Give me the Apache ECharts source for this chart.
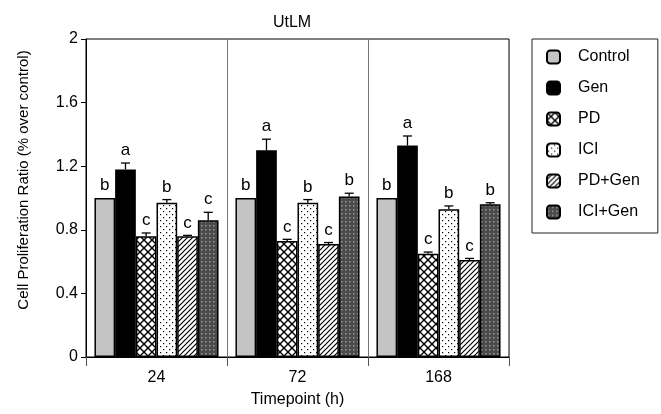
<!DOCTYPE html>
<html>
<head>
<meta charset="utf-8">
<script src="https://cdn.jsdelivr.net/npm/echarts@6/dist/echarts.min.js"></script>
<style>
  html, body { margin: 0; padding: 0; background: #fff; }
  #main { width: 661px; height: 414px; }
</style>
</head>
<body>
<div id="main"></div>
<script>
// data
var timepoints = ['24', '72', '168'];
var groups = ['Control', 'Gen', 'PD', 'ICI', 'PD+Gen', 'ICI+Gen'];

var controlVals = [1.0, 1.0, 1.0];
var genVals = [1.18, 1.30, 1.33];
var pdVals = [0.76, 0.73, 0.65];
var iciVals = [0.97, 0.97, 0.93];
var pdGenVals = [0.76, 0.71, 0.61];
var iciGenVals = [0.86, 1.01, 0.96];

var controlErr = [0, 0, 0];
var genErr = [0.04, 0.07, 0.06];
var pdErr = [0.02, 0.01, 0.01];
var iciErr = [0.02, 0.02, 0.02];
var pdGenErr = [0.005, 0.01, 0.01];
var iciGenErr = [0.05, 0.02, 0.01];

// significance letters, per group, per timepoint
var controlLetters = ['b', 'b', 'b'];
var genLetters = ['a', 'a', 'a'];
var pdLetters = ['c', 'c', 'c'];
var iciLetters = ['b', 'b', 'b'];
var pdGenLetters = ['c', 'c', 'c'];
var iciGenLetters = ['c', 'b', 'b'];

var yTicks = [0, 0.4, 0.8, 1.2, 1.6, 2];

var allVals = [controlVals, genVals, pdVals, iciVals, pdGenVals, iciGenVals];
var allErr = [controlErr, genErr, pdErr, iciErr, pdGenErr, iciGenErr];
var allLetters = [controlLetters, genLetters, pdLetters, iciLetters, pdGenLetters, iciGenLetters];

var CAT_GAP = 0.12;
var FONT = '"Liberation Sans", Arial, Helvetica, sans-serif';

// fill patterns
function makePattern(w, h, draw) {
  var c = document.createElement('canvas');
  c.width = w; c.height = h;
  var ctx = c.getContext('2d');
  draw(ctx, w, h);
  return { image: c, repeat: 'repeat' };
}

var crossHatch = makePattern(8, 8, function (ctx, w, h) {
  ctx.fillStyle = '#fff'; ctx.fillRect(0, 0, w, h);
  ctx.strokeStyle = '#000'; ctx.lineWidth = 1.4;
  ctx.beginPath();
  ctx.moveTo(0, 0); ctx.lineTo(w, h);
  ctx.moveTo(w, 0); ctx.lineTo(0, h);
  ctx.stroke();
});

var dots = makePattern(6, 6, function (ctx, w, h) {
  ctx.fillStyle = '#fff'; ctx.fillRect(0, 0, w, h);
  ctx.fillStyle = '#000';
  ctx.fillRect(1, 1, 1.2, 1.2);
  ctx.fillRect(4, 4, 1.2, 1.2);
});

var diag = makePattern(5, 5, function (ctx, w, h) {
  ctx.fillStyle = '#fff'; ctx.fillRect(0, 0, w, h);
  ctx.strokeStyle = '#000'; ctx.lineWidth = 1.2;
  ctx.beginPath();
  ctx.moveTo(0, h); ctx.lineTo(w, 0);
  ctx.moveTo(-1, 1); ctx.lineTo(1, -1);
  ctx.moveTo(w - 1, h + 1); ctx.lineTo(w + 1, h - 1);
  ctx.stroke();
});

var darkDots = makePattern(4, 4, function (ctx, w, h) {
  ctx.fillStyle = '#4a4a4a'; ctx.fillRect(0, 0, w, h);
  ctx.fillStyle = '#9a9a9a';
  ctx.fillRect(1, 1, 1.5, 1.5);
});

var fills = ['#c4c4c4', '#000', crossHatch, dots, diag, darkDots];

// error bars + letters, one item per bar
var errData = [];
var errLetters = [];
for (var s = 0; s < groups.length; s++) {
  for (var c = 0; c < timepoints.length; c++) {
    errData.push([c, s, allVals[s][c], allErr[s][c]]);
    errLetters.push(allLetters[s][c]);
  }
}

function renderErr(params, api) {
  var cat = api.value(0), s = api.value(1), v = api.value(2), e = api.value(3);
  var band = api.size([1, 0])[0];
  var groupW = band * (1 - CAT_GAP);
  var bw = groupW / groups.length;
  var center = api.coord([cat, v]);
  var x = center[0] - groupW / 2 + bw * (s + 0.5);
  var y0 = center[1];
  var y1 = api.coord([cat, v + e])[1];
  var children = [];
  if (e > 0) {
    children.push({
      type: 'line', shape: { x1: x, y1: y0, x2: x, y2: y1 },
      style: { stroke: '#000', lineWidth: 1.3 }
    });
    children.push({
      type: 'line', shape: { x1: x - 4.5, y1: y1, x2: x + 4.5, y2: y1 },
      style: { stroke: '#000', lineWidth: 1.3 }
    });
  }
  children.push({
    type: 'text',
    style: {
      text: errLetters[params.dataIndex],
      x: x, y: y1 - 4,
      align: 'center', verticalAlign: 'bottom',
      font: '17px ' + FONT, fill: '#000'
    }
  });
  return { type: 'group', children: children };
}

var series = groups.map(function (name, i) {
  return {
    name: name,
    type: 'bar',
    data: allVals[i],
    barGap: '0%',
    barCategoryGap: (CAT_GAP * 100) + '%',
    itemStyle: { color: fills[i], borderColor: '#000', borderWidth: 1.5 },
    emphasis: { disabled: true }
  };
});
series.push({
  type: 'custom',
  renderItem: renderErr,
  data: errData,
  encode: { x: 0, y: 2 },
  z: 10,
  silent: true
});

var chart = echarts.init(document.getElementById('main'));
chart.setOption({
  animation: false,
  backgroundColor: '#fff',
  textStyle: { fontFamily: FONT },
  title: {
    text: 'UtLM',
    left: 287, top: 10, textAlign: 'center',
    textStyle: { fontSize: 16, fontWeight: 'normal', color: '#000', fontFamily: FONT }
  },
  legend: {
    data: groups,
    orient: 'vertical',
    left: 532, top: 39,
    padding: [10, 18, 13, 14],
    itemWidth: 13, itemHeight: 13,
    itemGap: 15,
    borderColor: '#222', borderWidth: 1,
    textStyle: { fontSize: 16, color: '#000', fontFamily: FONT, padding: [0, 0, 0, 13] },
    selectedMode: false
  },
  grid: {
    left: 86, right: 152, top: 39, bottom: 57,
    show: true, borderColor: '#000', borderWidth: 1
  },
  xAxis: {
    type: 'category',
    data: timepoints,
    name: 'Timepoint (h)',
    nameLocation: 'middle',
    nameGap: 35,
    nameTextStyle: { fontSize: 16, color: '#000', fontFamily: FONT },
    axisLine: { lineStyle: { color: '#000', width: 1 } },
    axisTick: { show: true, length: 9, lineStyle: { color: '#555' } },
    axisLabel: { fontSize: 16, color: '#000', margin: 13, fontFamily: FONT },
    splitLine: { show: true, lineStyle: { color: '#777', width: 1 } }
  },
  yAxis: {
    type: 'value',
    min: yTicks[0], max: yTicks[yTicks.length - 1], interval: yTicks[1] - yTicks[0],
    name: 'Cell Proliferation Ratio (% over control)',
    nameLocation: 'middle',
    nameGap: 55,
    nameTextStyle: { fontSize: 15, color: '#000', fontFamily: FONT, padding: [0, 0, 0, 36] },
    axisLine: { show: true, lineStyle: { color: '#000', width: 1 } },
    axisTick: { show: true, length: 5, lineStyle: { color: '#000' } },
    axisLabel: { fontSize: 16, color: '#000', margin: 8, fontFamily: FONT },
    splitLine: { show: false }
  },
  series: series
});
</script>
</body>
</html>
